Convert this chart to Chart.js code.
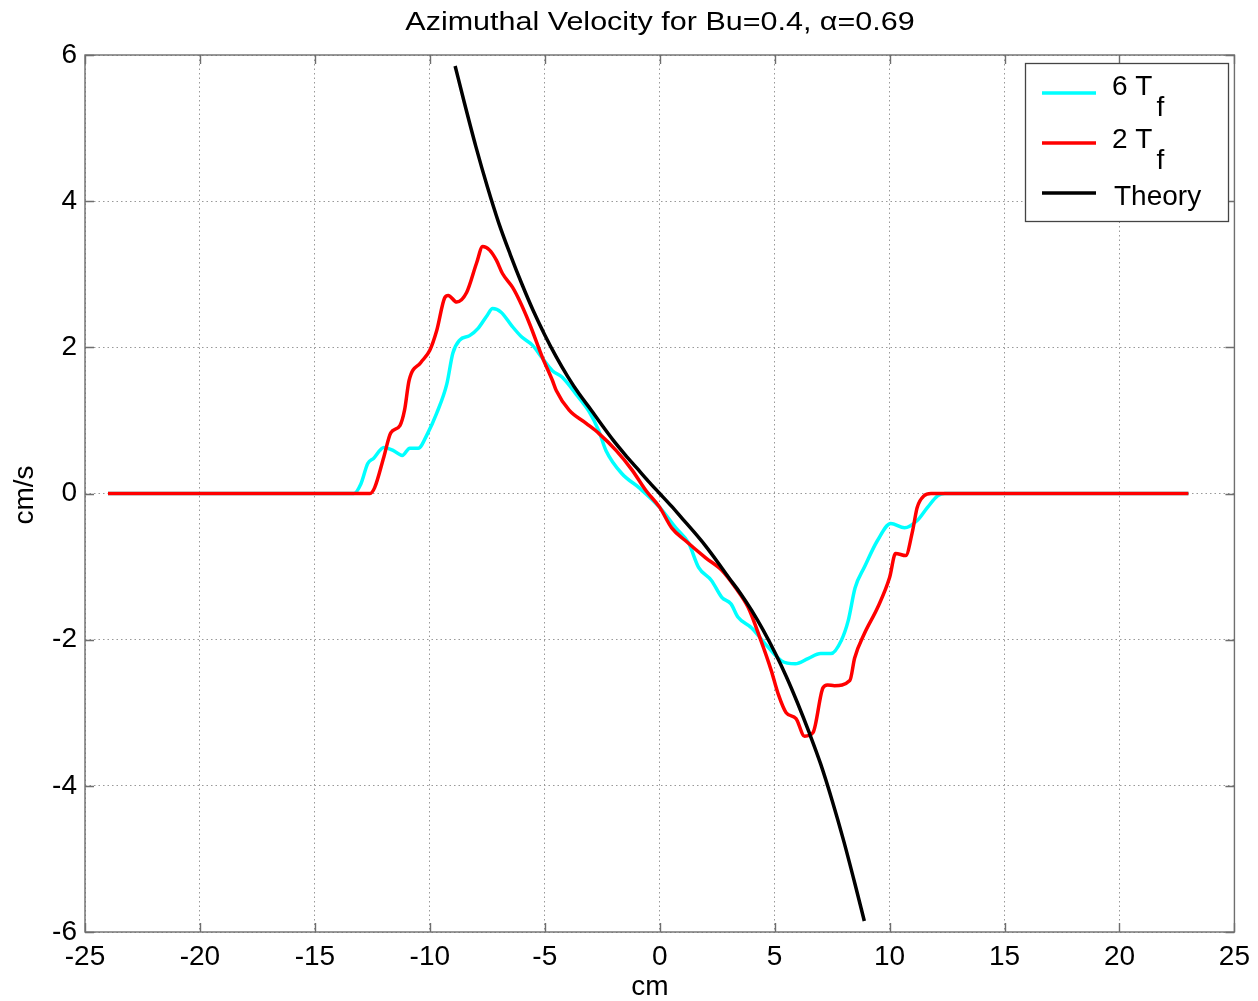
<!DOCTYPE html>
<html><head><meta charset="utf-8">
<script src="https://cdn.jsdelivr.net/npm/chart.js@4/dist/chart.umd.min.js"></script>
<style>html,body{margin:0;padding:0;background:#fff}#wrap{width:1258px;height:1001px}</style>
</head><body><div id="wrap"><canvas id="c" width="1258" height="1001"></canvas></div>
<script>
const titleText = 'Azimuthal Velocity for Bu=0.4, \u03b1=0.69';
const xLabel = 'cm';
const yLabel = 'cm/s';
const xTickValues = [-25, -20, -15, -10, -5, 0, 5, 10, 15, 20, 25];
const yTickValues = [-6, -4, -2, 0, 2, 4, 6];

const cyanX = [-24, -13.3, -13.0, -12.7, -12.45, -12.0, -11.6, -11.2, -10.87, -10.5, -10.1, -9.7, -9.26, -9.0, -8.7, -8.27, -7.9, -7.5, -7.27, -6.9, -6.45, -6.0, -5.54, -5.1, -4.67, -4.24, -3.64, -3.07, -2.64, -2.34, -1.64, -0.9, 0, 0.7, 1.26, 1.69, 2.25, 2.7, 3.1, 3.4, 4.0, 4.6, 5.3, 5.9, 6.45, 7.0, 7.45, 7.9, 8.2, 8.5, 8.9, 9.48, 10.05, 10.65, 11.2, 11.65, 12.1, 12.4, 23.0];
const cyanY = [0, 0, 0.13, 0.41, 0.48, 0.63, 0.59, 0.52, 0.62, 0.62, 0.82, 1.1, 1.5, 1.92, 2.1, 2.16, 2.26, 2.44, 2.53, 2.48, 2.3, 2.14, 2.03, 1.85, 1.68, 1.59, 1.36, 1.12, 0.85, 0.59, 0.27, 0.08, -0.19, -0.47, -0.68, -1.01, -1.19, -1.42, -1.51, -1.69, -1.84, -2.06, -2.29, -2.33, -2.26, -2.19, -2.19, -2.01, -1.74, -1.29, -1.01, -0.64, -0.41, -0.47, -0.37, -0.19, -0.03, 0, 0];

const redX = [-24, -12.6, -12.4, -12.0, -11.7, -11.3, -11.1, -10.9, -10.4, -10.0, -9.7, -9.35, -9.2, -8.83, -8.4, -7.97, -7.7, -7.4, -7.1, -6.84, -6.4, -6.1, -5.67, -5.1, -4.67, -4.5, -3.94, -3.2, -2.64, -1.9, -1.2, -0.6, 0, 0.52, 1.1, 2.0, 2.7, 3.3, 3.85, 4.4, 4.85, 5.15, 5.5, 5.93, 6.3, 6.67, 7.1, 7.3, 7.6, 8.27, 8.48, 8.9, 9.48, 10.0, 10.26, 10.7, 11.0, 11.2, 11.5, 11.8, 23.0];
const redY = [0, 0, 0.08, 0.5, 0.83, 0.93, 1.14, 1.55, 1.79, 1.96, 2.23, 2.68, 2.71, 2.62, 2.75, 3.15, 3.38, 3.33, 3.19, 3.01, 2.82, 2.64, 2.33, 1.86, 1.55, 1.41, 1.14, 0.96, 0.82, 0.59, 0.32, 0.04, -0.19, -0.47, -0.64, -0.88, -1.05, -1.29, -1.56, -2.01, -2.42, -2.74, -3.0, -3.08, -3.32, -3.27, -2.66, -2.62, -2.63, -2.56, -2.25, -1.92, -1.56, -1.15, -0.82, -0.85, -0.51, -0.19, -0.03, 0, 0];

const theoryX = [-8.9, -8.5, -8.0, -7.5, -7.0, -6.5, -6.0, -5.5, -5.0, -4.5, -4.0, -3.5, -3.0, -2.5, -2.0, -1.5, -1.0, -0.5, 0, 0.5, 1.0, 1.5, 2.0, 2.5, 3.0, 3.5, 4.0, 4.5, 5.0, 5.5, 6.0, 6.5, 7.0, 7.5, 8.0, 8.5, 8.9];
const theoryY = [5.85, 5.35, 4.75, 4.2, 3.7, 3.27, 2.87, 2.5, 2.17, 1.87, 1.6, 1.36, 1.15, 0.93, 0.72, 0.53, 0.35, 0.17, 0, -0.17, -0.35, -0.53, -0.72, -0.93, -1.15, -1.36, -1.6, -1.87, -2.17, -2.5, -2.87, -3.27, -3.7, -4.2, -4.75, -5.35, -5.85];

const legendItems = [
  {main: '6 T', sub: 'f', color: '#00ffff'},
  {main: '2 T', sub: 'f', color: '#ff0000'},
  {main: 'Theory', sub: '', color: '#000000'}
];

function pts(xs, ys) { return xs.map((x, i) => ({x: x, y: ys[i]})); }

const FONT = "'Liberation Sans', Arial, Helvetica, sans-serif";

const decor = {
  id: 'decor',
  afterDraw(chart) {
    const ctx = chart.ctx;
    const a = chart.chartArea;
    const xs = chart.scales.x, ys = chart.scales.y;
    ctx.save();
    ctx.strokeStyle = '#6e6e6e';
    ctx.lineWidth = 1.4;
    ctx.strokeRect(a.left, a.top, a.right - a.left, a.bottom - a.top);
    const tl = 9;
    ctx.beginPath();
    xTickValues.forEach(v => {
      const px = Math.round(xs.getPixelForValue(v)) + 0.5;
      ctx.moveTo(px, a.bottom); ctx.lineTo(px, a.bottom - tl);
      ctx.moveTo(px, a.top); ctx.lineTo(px, a.top + tl);
    });
    yTickValues.forEach(v => {
      const py = Math.round(ys.getPixelForValue(v)) + 0.5;
      ctx.moveTo(a.left, py); ctx.lineTo(a.left + tl, py);
      ctx.moveTo(a.right, py); ctx.lineTo(a.right - tl, py);
    });
    ctx.stroke();

    ctx.fillStyle = '#000';
    ctx.textAlign = 'center';
    ctx.textBaseline = 'alphabetic';
    ctx.save();
    ctx.translate(660, 30);
    ctx.scale(1.22, 1);
    ctx.font = '25px ' + FONT;
    ctx.fillText(titleText, 0, 0);
    ctx.restore();

    ctx.font = '28px ' + FONT;
    ctx.fillText(xLabel, 650, 995);
    ctx.save();
    ctx.translate(33, 495);
    ctx.rotate(-Math.PI / 2);
    ctx.fillText(yLabel, 0, 0);
    ctx.restore();

    const bx = 1025, by = 63, bw = 203, bh = 158;
    ctx.fillStyle = '#fff';
    ctx.fillRect(bx, by, bw, bh);
    ctx.strokeStyle = '#444';
    ctx.lineWidth = 1.3;
    ctx.strokeRect(bx + 0.5, by + 0.5, bw, bh);
    const rowY = [93, 143, 193];
    const baseY = [95, 148, 205];
    ctx.textAlign = 'left';
    legendItems.forEach((it, i) => {
      ctx.strokeStyle = it.color;
      ctx.lineWidth = 3.5;
      ctx.beginPath();
      ctx.moveTo(1042, rowY[i]); ctx.lineTo(1096, rowY[i]);
      ctx.stroke();
      ctx.fillStyle = '#000';
      ctx.font = '28px ' + FONT;
      const tx = it.sub ? 1112 : 1114;
      ctx.fillText(it.main, tx, baseY[i]);
      if (it.sub) {
        const w = ctx.measureText(it.main).width;
        ctx.fillText(it.sub, tx + w + 4, baseY[i] + 21);
      }
    });
    ctx.restore();
  }
};

new Chart(document.getElementById('c'), {
  type: 'line',
  data: {
    datasets: [
      {label: '6 Tf', data: pts(cyanX, cyanY), borderColor: '#00ffff', borderWidth: 3.5, pointRadius: 0, cubicInterpolationMode: 'monotone', order: 3},
      {label: '2 Tf', data: pts(redX, redY), borderColor: '#ff0000', borderWidth: 3.5, pointRadius: 0, cubicInterpolationMode: 'monotone', order: 2},
      {label: 'Theory', data: pts(theoryX, theoryY), borderColor: '#000000', borderWidth: 3.5, pointRadius: 0, cubicInterpolationMode: 'monotone', order: 1}
    ]
  },
  options: {
    responsive: false,
    animation: false,
    devicePixelRatio: 1,
    layout: {padding: {top: 55, right: 20, left: 0, bottom: 0}},
    plugins: {legend: {display: false}, title: {display: false}, tooltip: {enabled: false}},
    scales: {
      x: {
        type: 'linear', min: -25, max: 25,
        afterFit(s) { s.height = 69; },
        afterBuildTicks(s) { s.ticks = xTickValues.map(v => ({value: v})); },
        ticks: {color: '#000', font: {size: 28, family: FONT}, padding: 8, maxRotation: 0, autoSkip: false},
        grid: {color: '#999999', lineWidth: 1, drawTicks: false},
        border: {display: false, dash: [1.5, 3]}
      },
      y: {
        type: 'linear', min: -6, max: 6,
        afterFit(s) { s.width = 85; },
        afterBuildTicks(s) { s.ticks = yTickValues.map(v => ({value: v})); },
        ticks: {color: '#000', font: {size: 28, family: FONT}, padding: 8, autoSkip: false},
        grid: {color: '#999999', lineWidth: 1, drawTicks: false},
        border: {display: false, dash: [1.5, 3]}
      }
    }
  },
  plugins: [decor]
});
</script>
</body></html>
